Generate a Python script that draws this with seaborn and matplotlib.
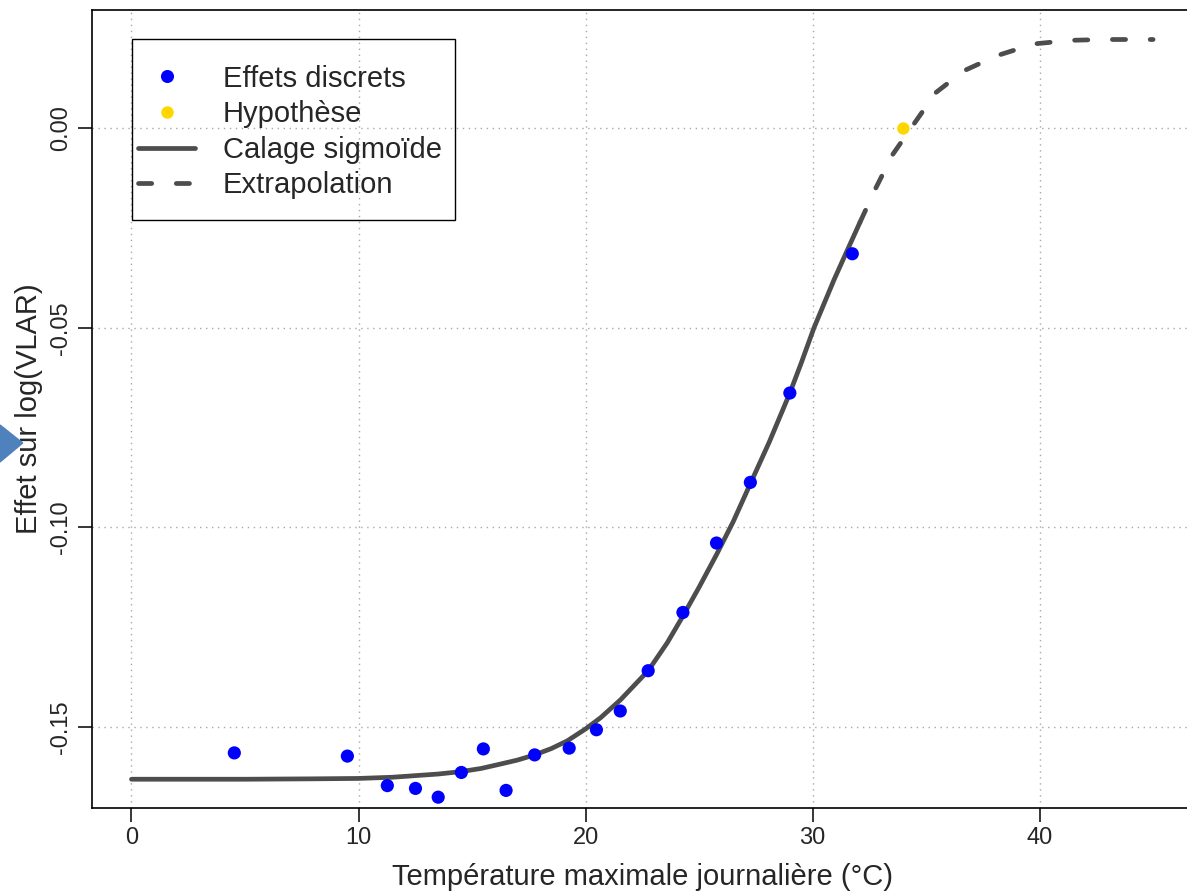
import numpy as np
import pandas as pd
import seaborn as sns
from matplotlib import pyplot as plt
from matplotlib.lines import Line2D
from matplotlib.patches import Rectangle, Polygon

# valeurs
temp = [4.53, 9.51, 11.27, 12.51, 13.51, 14.53, 15.50, 16.50, 17.76,
        19.28, 20.48, 21.53, 22.76, 24.29, 25.77, 27.26, 29.00, 31.75]
effet = [-0.1565, -0.1573, -0.1647, -0.1654, -0.1676, -0.1614, -0.1555,
         -0.1659, -0.1570, -0.1553, -0.1507, -0.1460, -0.1359, -0.1213,
         -0.1039, -0.0887, -0.0663, -0.0314]

hyp_temp = [34.0]
hyp_effet = [0.0]

# courbe de calage (lue point par point)
fit_temp = [0, 5, 8, 10, 11.5, 12.5, 13.5, 14.5, 15.4, 16.25, 17.0, 17.76,
            18.5, 19.19, 20.0, 20.66, 21.54, 22.76, 23.6, 24.26, 25.0, 25.77,
            26.5, 27.27, 28.1, 29.0, 29.5, 30.06, 30.94, 31.5, 32.09]
fit_effet = [-0.1631, -0.1631, -0.1630, -0.1629, -0.1626, -0.1622, -0.1618,
             -0.1612, -0.1604, -0.1593, -0.1583, -0.1570, -0.1554, -0.1535,
             -0.1505, -0.1477, -0.1432, -0.1359, -0.1289, -0.1225, -0.1150,
             -0.1068, -0.0986, -0.0889, -0.0785, -0.0663, -0.0588, -0.0500,
             -0.0380, -0.0309, -0.0235]

# extrapolation
ext_temp = [32.09, 32.78, 33.52, 34.4, 35.43, 36.68, 38.15, 39.76, 41.38,
            42.85, 45.0]
ext_effet = [-0.0235, -0.0150, -0.0066, 0.0006, 0.0090, 0.0145, 0.0183,
             0.0212, 0.0221, 0.0223, 0.0223]

xticks = [0, 10, 20, 30, 40]
yticks = [0.0, -0.05, -0.10, -0.15]
ytick_labels = ['0.00', '-0.05', '-0.10', '-0.15']

df_pts = pd.DataFrame({'temp': temp, 'effet': effet})
df_hyp = pd.DataFrame({'temp': hyp_temp, 'effet': hyp_effet})
df_fit = pd.DataFrame({'temp': fit_temp, 'effet': fit_effet})
df_ext = pd.DataFrame({'temp': ext_temp, 'effet': ext_effet})

sns.set_style('white')
plt.rcParams['font.family'] = ['Liberation Sans', 'DejaVu Sans']

line_col = '#4D4D4D'
lw = 3.4
dash = (0, (2.8, 5.2))

fig = plt.figure(figsize=(11.87, 8.91), dpi=100)
ax = fig.add_axes([0.0771, 0.0932, 0.928, 0.8956])

for v in xticks:
    ax.axvline(v, color='#A8A8A8', lw=1, ls=(0, (1, 3.3)), zorder=0)
for v in yticks:
    ax.axhline(v, color='#A8A8A8', lw=1, ls=(0, (1, 3.3)), zorder=0)

sns.lineplot(data=df_fit, x='temp', y='effet', ax=ax, color=line_col,
             lw=lw, solid_capstyle='round', solid_joinstyle='round', zorder=2)
sns.lineplot(data=df_ext, x='temp', y='effet', ax=ax, color=line_col,
             lw=lw, ls=dash, dash_capstyle='round', zorder=2)
sns.scatterplot(data=df_pts, x='temp', y='effet', ax=ax, color='#0000FF',
                s=90, edgecolor='none', zorder=3)
sns.scatterplot(data=df_hyp, x='temp', y='effet', ax=ax, color='#FFD700',
                s=80, edgecolor='none', zorder=3)

ax.set_xlim(-1.76, 46.76)
ax.set_ylim(-0.1703, 0.0297)
ax.set_xticks(xticks)
ax.set_xticklabels([str(v) for v in xticks], fontsize=17)
ax.set_yticks(yticks)
ax.set_yticklabels(ytick_labels, fontsize=17, rotation=90, va='center')
ax.tick_params(direction='out', length=10, width=1.1, color='black',
               pad=4, bottom=True, left=True)
for sp in ax.spines.values():
    sp.set_color('black')
    sp.set_linewidth(1.2)
ax.spines['right'].set_visible(False)

ax.set_xlabel('Température maximale journalière (°C)', fontsize=21, labelpad=10)
ax.set_ylabel('Effet sur log(VLAR)', fontsize=21, labelpad=5)

handles = [
    Line2D([], [], ls='none', marker='o', color='#0000FF', markersize=9.4,
           markeredgewidth=0),
    Line2D([], [], ls='none', marker='o', color='#FFD700', markersize=9,
           markeredgewidth=0),
    Line2D([], [], color=line_col, lw=lw, solid_capstyle='round'),
    Line2D([], [], color=line_col, lw=lw, ls=dash, dash_capstyle='round'),
]
labels = ['Effets discrets', 'Hypothèse', 'Calage sigmoïde', 'Extrapolation']
ax.legend(handles, labels, loc='upper left', bbox_to_anchor=(0.0422, 0.9315),
          frameon=False, borderpad=0, borderaxespad=0, fontsize=21,
          handlelength=1.97, handletextpad=0.93, labelspacing=0.26)
ax.add_patch(Rectangle((0.0363, 0.7368), 0.2941, 0.2268, transform=ax.transAxes,
                       fill=False, edgecolor='black', lw=1.0, zorder=5))

# fleche bleue coupee sur le bord gauche
fig.patches.append(Polygon([(0, 1 - 425 / 891), (22.7 / 1187, 1 - 443 / 891),
                            (0, 1 - 462 / 891)], closed=True,
                           transform=fig.transFigure, color='#4F81BD'))

fig.savefig('out.png', dpi=100)
